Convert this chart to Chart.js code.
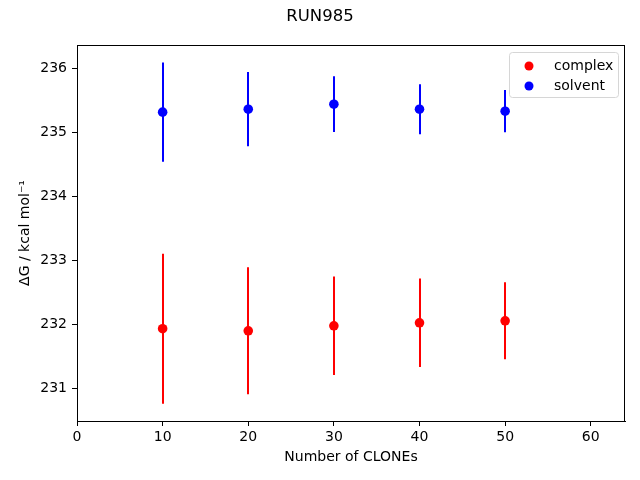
<!DOCTYPE html>
<html>
<head>
<meta charset="utf-8">
<script src="https://cdn.jsdelivr.net/npm/chart.js@4/dist/chart.umd.min.js"></script>
<style>
  html, body { margin: 0; padding: 0; background: #fff; }
  #wrap { width: 640px; height: 480px; }
</style>
</head>
<body>
<div id="wrap"><canvas id="c" width="640" height="480"></canvas></div>
<script>
const clones = [10, 20, 30, 40, 50];
const complexMean = [231.935, 231.903, 231.981, 232.028, 232.059];
const complexErr = [1.17, 0.99, 0.77, 0.69, 0.60];
const solventMean = [235.315, 235.361, 235.439, 235.361, 235.33];
const solventErr = [0.775, 0.58, 0.435, 0.39, 0.33];
const xTicks = [0, 10, 20, 30, 40, 50, 60];
const yTicks = [231, 232, 233, 234, 235, 236];

const FONT = 'DejaVu Sans';
const RED = '#ff0000';
const BLUE = '#0000ff';

function toPoints(xs, ys) {
  return xs.map((x, i) => ({ x, y: ys[i] }));
}

// vertical error bars, drawn under the markers
const errorBars = {
  id: 'errorBars',
  beforeDatasetsDraw(chart) {
    const { ctx, scales: { x, y } } = chart;
    const sets = [
      { mean: complexMean, err: complexErr, color: RED },
      { mean: solventMean, err: solventErr, color: BLUE },
    ];
    ctx.save();
    ctx.lineWidth = 2;
    sets.forEach((s) => {
      ctx.strokeStyle = s.color;
      clones.forEach((c, i) => {
        const px = Math.round(x.getPixelForValue(c));
        ctx.beginPath();
        ctx.moveTo(px, y.getPixelForValue(s.mean[i] - s.err[i]));
        ctx.lineTo(px, y.getPixelForValue(s.mean[i] + s.err[i]));
        ctx.stroke();
      });
    });
    ctx.restore();
  },
};

// frame, titles and boxed legend in the matplotlib look
const decorations = {
  id: 'decorations',
  afterDraw(chart) {
    const { ctx, chartArea: a } = chart;
    ctx.save();
    ctx.strokeStyle = '#000';
    ctx.lineWidth = 1;
    ctx.strokeRect(Math.round(a.left) + 0.5, Math.round(a.top) + 0.5,
      Math.round(a.right - a.left) - 1, Math.round(a.bottom - a.top));

    ctx.fillStyle = '#000';
    ctx.textAlign = 'center';
    ctx.textBaseline = 'middle';
    ctx.font = `16.5px "${FONT}"`;
    ctx.fillText('RUN985', 320, 17);

    ctx.font = `14px "${FONT}"`;
    ctx.fillText('Number of CLONEs', (a.left + a.right) / 2, 457);

    ctx.save();
    ctx.translate(25, (a.top + a.bottom) / 2);
    ctx.rotate(-Math.PI / 2);
    ctx.fillText('\u0394G / kcal mol\u207B\u00B9', 0, 0);
    ctx.restore();

    // legend
    const lx = 509.5, ly = 52.5, lw = 109, lh = 45;
    ctx.fillStyle = 'rgba(255,255,255,0.8)';
    ctx.strokeStyle = '#d6d6d6';
    ctx.beginPath();
    ctx.roundRect(lx, ly, lw, lh, 3);
    ctx.fill();
    ctx.stroke();
    const items = [['complex', RED, 66], ['solvent', BLUE, 86]];
    ctx.textAlign = 'left';
    items.forEach(([label, color, cy]) => {
      ctx.fillStyle = color;
      ctx.beginPath();
      ctx.arc(529, cy, 4.5, 0, Math.PI * 2);
      ctx.fill();
      ctx.fillStyle = '#000';
      ctx.fillText(label, 554, cy);
    });
    ctx.restore();
  },
};

new Chart(document.getElementById('c'), {
  type: 'scatter',
  data: {
    datasets: [
      {
        label: 'complex',
        data: toPoints(clones, complexMean),
        backgroundColor: RED,
        borderColor: RED,
        pointRadius: 4.8,
        pointHoverRadius: 4.8,
        borderWidth: 0,
      },
      {
        label: 'solvent',
        data: toPoints(clones, solventMean),
        backgroundColor: BLUE,
        borderColor: BLUE,
        pointRadius: 4.8,
        pointHoverRadius: 4.8,
        borderWidth: 0,
      },
    ],
  },
  options: {
    responsive: false,
    animation: false,
    events: [],
    layout: { padding: { left: 0, right: 15, top: 45, bottom: 0 } },
    plugins: {
      legend: { display: false },
      title: { display: false },
      tooltip: { enabled: false },
    },
    scales: {
      x: {
        type: 'linear',
        min: 0,
        max: 64,
        afterBuildTicks: (s) => { s.ticks = xTicks.map((v) => ({ value: v })); },
        afterFit: (s) => { s.height = 59; },
        grid: { drawOnChartArea: false, drawTicks: true, tickLength: 5, color: '#000' },
        border: { color: '#000', width: 1 },
        ticks: { color: '#000', padding: 3, maxRotation: 0, font: { family: FONT, size: 14 } },
      },
      y: {
        type: 'linear',
        min: 230.495,
        max: 236.363,
        afterBuildTicks: (s) => { s.ticks = yTicks.map((v) => ({ value: v })); },
        afterFit: (s) => { s.width = 77; },
        grid: { drawOnChartArea: false, drawTicks: true, tickLength: 5, color: '#000' },
        border: { color: '#000', width: 1 },
        ticks: { color: '#000', padding: 5, font: { family: FONT, size: 14 } },
      },
    },
  },
  plugins: [errorBars, decorations],
});
</script>
</body>
</html>
